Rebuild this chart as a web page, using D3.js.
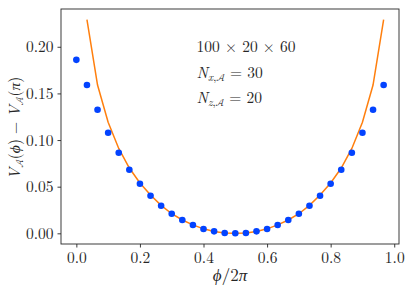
<!DOCTYPE html>
<html><head><meta charset="utf-8">
<script src="https://cdn.jsdelivr.net/npm/d3@7/dist/d3.min.js"></script>
<style>body{margin:0;background:#fff}svg{display:block}</style>
</head><body><svg id="c" width="411" height="293"></svg>
<script>
// data: phi/2pi = k/30
const pointK = d3.range(0, 30);
const pointV = [0.186,0.159,0.1325,0.1078,0.0864,0.0682,0.0532,0.0403,0.0296,0.021,0.0143,0.0089,0.0046,0.0021,0.0004,0.0,
                0.0004,0.0021,0.0046,0.0089,0.0143,0.021,0.0296,0.0403,0.0532,0.0682,0.0864,0.1078,0.1325,0.159];
const lineK = d3.range(1, 30);
const lineV = [0.229,0.159,0.119,0.091,0.070,0.054,0.041,0.030,0.021,0.0143,0.009,0.0048,0.002,0.0004,0.0,
               0.0004,0.002,0.0048,0.009,0.0143,0.021,0.030,0.041,0.054,0.070,0.091,0.119,0.159,0.229];
const xTicks = [0.0,0.2,0.4,0.6,0.8,1.0];
const yTicks = [0.00,0.05,0.10,0.15,0.20];

const FONT = "'Latin Modern Roman','CMU Serif','Liberation Serif',serif";
const MATH = "'Latin Modern Math','Latin Modern Roman','DejaVu Sans'";
const INK = "#262626";
const svg = d3.select("#c");
const L=61, R=399, T=9, B=244;
const x = d3.scaleLinear().domain([-0.0483, 1.015]).range([L, R]);
const y = d3.scaleLinear().domain([-0.01145, 0.2405]).range([B, T]);

const xa = svg.append("g").attr("transform",`translate(0,${B})`)
  .call(d3.axisBottom(x).tickValues(xTicks).tickFormat(d3.format(".1f")).tickSizeOuter(0).tickSize(3.5).tickPadding(4));
const ya = svg.append("g").attr("transform",`translate(${L},0)`)
  .call(d3.axisLeft(y).tickValues(yTicks).tickFormat(d3.format(".2f")).tickSizeOuter(0).tickSize(3.5).tickPadding(4));
[xa,ya].forEach(g=>{
  g.select(".domain").remove();
  g.selectAll("line").attr("stroke",INK).attr("stroke-width",0.9);
  g.selectAll("text").style("font-family",FONT).style("font-size","15.5px").attr("fill",INK);
});

const line = d3.line().x((d,i)=>x(lineK[i]/30)).y(d=>y(d));
svg.append("path").datum(lineV).attr("d",line).attr("fill","none").attr("stroke","#ff7f0e").attr("stroke-width",1.5);

svg.selectAll("circle.p").data(pointV).join("circle").attr("class","p")
  .attr("cx",(d,i)=>x(pointK[i]/30)).attr("cy",d=>y(d)).attr("r",3.3).attr("fill","#0343ff");

svg.append("rect").attr("x",L).attr("y",T).attr("width",R-L).attr("height",B-T)
  .attr("fill","none").attr("stroke",INK).attr("stroke-width",0.9);

// annotations
const ann = svg.append("g").style("font-family",FONT).style("font-size","15.5px").attr("fill",INK);
ann.append("text").attr("x",196.5).attr("y",52).text("100 × 20 × 60");
function nline(yy, sub, val){
  const t = ann.append("text").attr("x",196.5).attr("y",yy);
  t.append("tspan").style("font-style","italic").text("N");
  t.append("tspan").attr("dy",3).style("font-size","11px").style("font-style","italic").text(sub);
  t.append("tspan").style("font-size","11px").text(",");
  t.append("tspan").style("font-size","10px").style("font-family",MATH).text("𝒜");
  t.append("tspan").attr("dy",-3).text(" = "+val);
}
nline(78,"x","30");
nline(103,"z","20");

// x label
const xl = svg.append("text").attr("x",230).attr("y",281).attr("text-anchor","middle")
  .style("font-family",FONT).style("font-size","17px").attr("fill",INK);
xl.append("tspan").style("font-style","italic").text("ϕ");
xl.append("tspan").text("/2");
xl.append("tspan").style("font-style","italic").text("π");

// y label
const yl = svg.append("text").attr("transform","translate(20,128) rotate(-90)").attr("text-anchor","middle")
  .style("font-family",FONT).style("font-size","15.5px").attr("fill",INK);
function vpart(arg){
  yl.append("tspan").style("font-style","italic").text("V");
  yl.append("tspan").attr("dy",3).style("font-size","10px").style("font-family",MATH).text("𝒜");
  yl.append("tspan").attr("dy",-3).text("(");
  yl.append("tspan").style("font-style","italic").text(arg);
  yl.append("tspan").text(")");
}
vpart("ϕ");
yl.append("tspan").text(" − ");
vpart("π");
</script></body></html>
